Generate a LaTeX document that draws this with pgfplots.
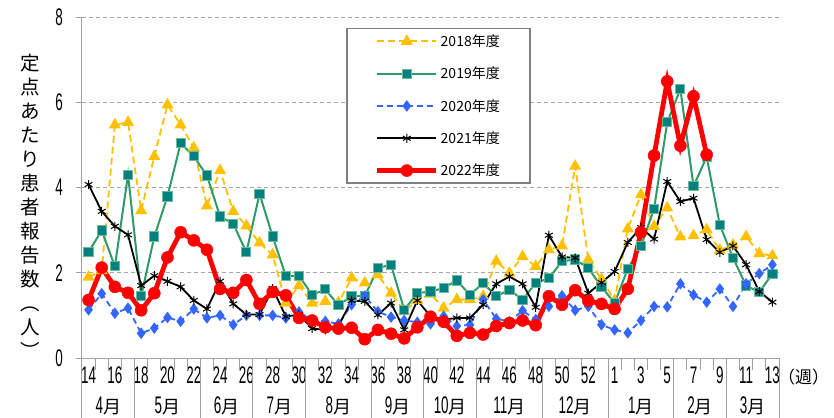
\documentclass[border=0pt]{standalone}
\usepackage{fontspec}
\usepackage{pgfplots}
\usepackage{pgfplotstable}
\pgfplotsset{compat=1.18}
\setmainfont{Noto Sans CJK JP}
\newfontfamily\numfont[FakeStretch=0.56]{Liberation Sans}
\definecolor{c18}{HTML}{FFC000}
\definecolor{c19}{HTML}{2E9A68}
\definecolor{c19m}{HTML}{00807F}
\definecolor{c20}{HTML}{3366FF}
\definecolor{c22}{HTML}{FF0000}
\definecolor{axgray}{HTML}{A0A0A0}
\definecolor{gridgray}{HTML}{A6A6A6}
\pgfplotstableread{
i y18 y19 y20 y21
0 1.90 2.49 1.13 4.07
1 2.05 2.99 1.51 3.44
2 5.47 2.15 1.05 3.09
3 5.53 4.30 1.17 2.89
4 3.46 1.45 0.58 1.70
5 4.73 2.85 0.70 1.93
6 5.94 3.79 0.95 1.80
7 5.47 5.04 0.86 1.67
8 4.93 4.73 1.15 1.35
9 3.57 4.28 0.94 1.15
10 4.40 3.32 1.00 1.80
11 3.44 3.15 0.78 1.27
12 3.10 2.48 1.00 1.02
13 2.70 3.85 1.00 1.02
14 2.42 2.85 1.00 1.63
15 1.29 1.92 0.94 0.97
16 1.70 1.93 1.08 1.02
17 1.29 1.48 0.88 0.69
18 1.33 1.61 0.86 0.66
19 1.30 1.24 0.80 0.75
20 1.88 1.45 1.25 1.35
21 1.76 1.45 1.45 1.33
22 1.95 2.11 1.09 1.01
23 1.52 2.19 0.96 1.29
24 1.10 1.13 0.88 0.66
25 1.35 1.52 0.84 1.35
26 1.50 1.56 0.80 0.98
27 1.17 1.64 0.98 0.90
28 1.37 1.82 0.75 0.94
29 1.37 1.48 0.78 0.94
30 1.45 1.76 1.37 1.25
31 2.27 1.45 0.92 1.74
32 1.99 1.60 0.86 1.91
33 2.38 1.37 1.11 1.74
34 2.15 1.76 0.90 1.19
35 2.54 1.87 1.21 2.88
36 2.63 2.27 1.46 2.37
37 4.50 2.31 1.12 2.35
38 2.31 2.11 1.21 1.52
39 1.85 1.67 0.78 1.77
40 1.35 1.29 0.66 2.03
41 3.03 2.09 0.59 2.71
42 3.83 2.62 0.88 3.06
43 3.09 3.50 1.21 2.79
44 3.52 5.53 1.20 4.14
45 2.84 6.31 1.74 3.67
46 2.87 4.03 1.48 3.75
47 3.01 4.72 1.31 2.78
48 2.53 3.12 1.62 2.48
49 2.65 2.35 1.21 2.63
50 2.85 1.70 1.74 2.19
51 2.45 1.54 1.98 1.56
52 2.40 1.98 2.19 1.31
}\dataA
\pgfplotstableread{
i y22
0 1.36
1 2.12
2 1.67
3 1.53
4 1.12
5 1.52
6 2.36
7 2.95
8 2.76
9 2.54
10 1.62
11 1.53
12 1.83
13 1.27
14 1.55
15 1.47
16 0.94
17 0.88
18 0.72
19 0.69
20 0.71
21 0.44
22 0.66
23 0.57
24 0.46
25 0.72
26 0.97
27 0.85
28 0.52
29 0.59
30 0.55
31 0.75
32 0.82
33 0.88
34 0.77
35 1.45
36 1.25
37 1.59
38 1.34
39 1.27
40 1.15
41 1.62
42 2.95
43 4.75
44 6.49
45 4.98
46 6.14
47 4.77
}\dataB
\begin{document}
\begin{tikzpicture}
\useasboundingbox (-82pt,-59pt) rectangle (752pt,358pt);
\begin{axis}[
  at={(0,0)}, anchor=south west,
  scale only axis, width=697pt, height=341pt,
  xmin=-0.5, xmax=52.5, ymin=0, ymax=8,
  clip=false,
  axis x line*=bottom, axis y line*=left,
  axis line style={axgray, line width=1pt},
  tick align=outside,
  major tick length=0pt,
  minor tick length=6pt,
  minor tick style={axgray, line width=1pt},
  xtick={0,2,...,52},
  xticklabels={14,16,18,20,22,24,26,28,30,32,34,36,38,40,42,44,46,48,50,52,1,3,5,7,9,11,13},
  x tick label style={font=\numfont\fontsize{24}{24}\selectfont, anchor=base, yshift=-25pt, inner sep=0pt},
  ytick={0,2,4,6,8},
  minor ytick={0,2,4,6,8},
  yticklabels={0,2,4,6,8},
  y tick label style={font=\numfont\fontsize{24}{24}\selectfont, anchor=east, xshift=-19pt, inner sep=0pt},
  ymajorgrids,
  major grid style={gridgray, dash pattern=on 4pt off 3pt, line width=1pt},
  legend style={at={(axis description cs:0.379,0.968)}, anchor=north west,
    draw=black!50, line width=1.5pt, fill=white,
    font=\fontsize{14}{14}\selectfont,
    inner xsep=28pt, inner ysep=4pt, row sep=15pt,
    /tikz/every even column/.append style={column sep=4pt}},
  legend cell align=left,
  legend image code/.code={\draw[mark repeat=2,mark phase=2,#1] plot coordinates {(0pt,0pt)(29.5pt,0pt)(59pt,0pt)};},
]
\addplot[c18, line width=1.8pt, dash pattern=on 7pt off 4pt, mark=triangle*, mark size=5.2pt, mark options={solid, fill=c18}] table[x=i,y=y18] {\dataA};
\addlegendentry{2018年度}
\addplot[c19, line width=2pt, mark=square*, mark size=4.6pt, mark options={solid, fill=c19m, draw=c19!70, line width=1pt}] table[x=i,y=y19] {\dataA};
\addlegendentry{2019年度}
\addplot[c20, line width=1.8pt, dash pattern=on 6pt off 4pt, mark=diamond*, mark size=4.3pt, mark options={solid, fill=c20}] table[x=i,y=y20] {\dataA};
\addlegendentry{2020年度}
\addplot[black, line width=1.8pt, mark=asterisk, mark size=4.5pt, mark options={solid, line width=1pt}] table[x=i,y=y21] {\dataA};
\addlegendentry{2021年度}
\addplot[c22, line width=4.8pt, mark=*, mark size=6pt, mark options={solid, fill=c22, line width=0.5pt}] table[x=i,y=y22] {\dataB};
\addlegendentry{2022年度}
\pgfplotsinvokeforeach{-0.5,0.5,...,52.5}{\draw[axgray, line width=1pt] (axis cs:#1,0) -- ++(0pt,-12pt);}
\pgfplotsinvokeforeach{-0.5,3.5,8.5,12.5,16.5,21.5,25.5,29.5,34.5,39.5,44.5,48.5,52.5}{\draw[axgray, line width=1pt] (axis cs:#1,0) -- ++(0pt,-60pt);}
\foreach \mx/\mn in {1.5/4,6/5,10.5/6,14.5/7,19/8,23.5/9,27.5/10,32/11,37/12,42/1,46.5/2,50.5/3}{
  \edef\tmp{\noexpand\node[anchor=base, inner sep=0pt] at (axis cs:\mx,0) [yshift=-55pt] {{\noexpand\numfont\noexpand\fontsize{24}{24}\noexpand\selectfont \mn}{\noexpand\fontsize{18}{18}\noexpand\selectfont 月}};}
  \tmp
}
\node[anchor=base west, inner sep=0pt, font=\fontsize{17}{17}\selectfont] at (axis cs:52.5,0) [xshift=-1pt, yshift=-25pt] {（週）};
\node[align=center, inner sep=0pt, font=\fontsize{19.5}{24}\selectfont] at (axis description cs:-0.0746,0.446) {定\\点\\あ\\た\\り\\患\\者\\報\\告\\数\\︵\\人\\︶};
\end{axis}
\end{tikzpicture}
\end{document}
